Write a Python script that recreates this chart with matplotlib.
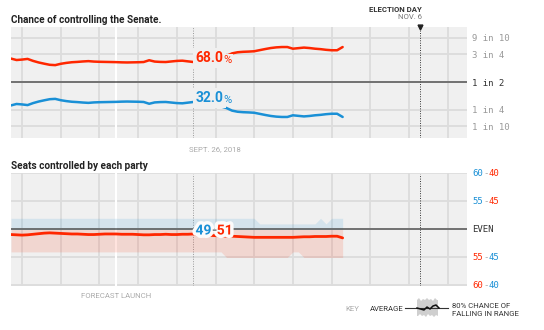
import matplotlib
matplotlib.use('Agg')
import matplotlib.pyplot as plt
import matplotlib.dates as mdates
import matplotlib.patheffects as pe
from matplotlib.lines import Line2D
from matplotlib.patches import Polygon
import numpy as np
import pandas as pd

# daily forecast, Aug 24 - Oct 23 2018
days = pd.date_range('2018-08-24', periods=61, freq='D')

rep_chance = [0.711, 0.698, 0.702, 0.708, 0.690, 0.676, 0.665, 0.655, 0.652, 0.664,
              0.672, 0.678, 0.681, 0.685, 0.688, 0.684, 0.682, 0.681, 0.680, 0.679,
              0.677, 0.676, 0.677, 0.678, 0.680, 0.696, 0.684, 0.681, 0.680, 0.685,
              0.690, 0.692, 0.686, 0.680, 0.685, 0.690, 0.700, 0.705, 0.720, 0.735,
              0.758, 0.768, 0.772, 0.774, 0.777, 0.787, 0.797, 0.806, 0.812, 0.815,
              0.815, 0.800, 0.805, 0.810, 0.806, 0.800, 0.796, 0.790, 0.786, 0.786,
              0.815]

dem_seats_avg = [49.1, 49.05, 49.0, 49.05, 49.15, 49.25, 49.35, 49.4, 49.35, 49.3,
                 49.25, 49.2, 49.2, 49.15, 49.1, 49.1, 49.15, 49.2, 49.2, 49.2,
                 49.15, 49.15, 49.15, 49.1, 49.05, 49.05, 49.1, 49.1, 49.15, 49.1,
                 49.1, 49.15, 49.15, 49.2, 49.1, 49.0, 48.95, 48.9, 48.85, 48.8,
                 48.8, 48.75, 48.7, 48.65, 48.6, 48.6, 48.6, 48.6, 48.6, 48.6,
                 48.6, 48.6, 48.65, 48.7, 48.7, 48.75, 48.75, 48.75, 48.8, 48.8,
                 48.5]

# 80% range of dem seats
dem_seats_hi = [52] * 45 + [51] * 11 + [52, 51, 52, 52, 52]
dem_seats_lo = [46] * 39 + [45] * 12 + [46, 46] + [45] * 8

prob_ticks = [0.1, 0.25, 0.5, 0.75, 0.9]
prob_labels = ['1 in 10', '1 in 4', '1 in 2', '3 in 4', '9 in 10']
seat_ticks = [40, 45, 50, 55, 60]

today = pd.Timestamp('2018-09-26')
launch = pd.Timestamp('2018-09-12')
election = pd.Timestamp('2018-11-06')
x_lim = (pd.Timestamp('2018-08-24'), pd.Timestamp('2018-11-14 12:00'))

RED = '#ff2700'
BLUE = '#1a90d6'
BG = '#f0f0f0'
GRID = '#dcdcdc'
plt.rcParams['font.family'] = ['Roboto', 'DejaVu Sans']

fig = plt.figure(figsize=(5.44, 3.30), dpi=100)
ax1 = fig.add_axes([11/544, 1-137.5/330, 456/544, 111/330])
ax2 = fig.add_axes([11/544, 1-285.5/330, 456/544, 112/330])

for ax in (ax1, ax2):
    ax.set_facecolor(BG)
    for s in ax.spines.values():
        s.set_visible(False)
    ax.set_xlim(x_lim)
    ax.xaxis.set_major_locator(mdates.WeekdayLocator(byweekday=mdates.SU))
    ax.set_axisbelow(True)
    ax.grid(True, color=GRID, lw=1.3)
    ax.tick_params(length=0, labelbottom=False)
    ax.yaxis.tick_right()
    ax.axvline(launch, color='white', lw=1.5, zorder=1)
    ax.axvline(today, color='#999', lw=0.7, ls=(0, (1, 1.5)), zorder=1)
    ax.axvline(election, color='#333', lw=0.7, ls=(0, (1, 1.5)), zorder=1)

# --- chance of controlling the senate
rep = np.array(rep_chance)
dem = 1 - rep
ax1.set_ylim(0, 1)
ax1.set_yticks(prob_ticks, prob_labels)
ax1.tick_params(axis='y', labelsize=6.5, labelcolor='#999', pad=3.5)
for lab in ax1.get_yticklabels():
    lab.set_family('DejaVu Sans Mono')
    if lab.get_text() == '1 in 2':
        lab.set_color('#333')
ax1.axhline(0.5, color='#555', lw=1.1, zorder=2)
ax1.plot(days, rep, color=RED, lw=1.8, solid_capstyle='round', zorder=3)
ax1.plot(days, dem, color=BLUE, lw=1.8, solid_capstyle='round', zorder=3)

i = days.get_loc(today)
box = dict(boxstyle='square,pad=0.2', fc=BG, ec='none')
pbox = dict(boxstyle='square,pad=0.05', fc=BG, ec='none')
for val, col in ((rep[i], RED), (dem[i], BLUE)):
    t = ax1.annotate(f'{val*100:.1f}', xy=(today, val), xytext=(1.5, 2.7),
                     textcoords='offset points', ha='left', va='center',
                     color=col, fontsize=10, fontweight='bold', bbox=box, zorder=5)
    ax1.annotate('%', xy=(1, 0.05), xycoords=t, xytext=(0.3, 0),
                 textcoords='offset points', ha='left', va='bottom',
                 color=col, fontsize=8, bbox=pbox, zorder=5.1)

# --- seats controlled by each party
ax2.set_ylim(40, 60)
ax2.set_yticks(seat_ticks, [''] * len(seat_ticks))
ax2.axhline(50, color='#555', lw=1.1, zorder=2)
ax2.fill_between(days, 50, dem_seats_hi, color=BLUE, alpha=0.13, lw=0, zorder=1.5)
ax2.fill_between(days, dem_seats_lo, 50, color=RED, alpha=0.13, lw=0, zorder=1.5)
ax2.plot(days, dem_seats_avg, color=RED, lw=2, solid_capstyle='round', zorder=3)

tr = ax2.get_yaxis_transform()
for d in seat_ticks:
    kw = dict(fontsize=6.5, family='DejaVu Sans Mono', va='center')
    if d == 50:
        ax2.text(1.012, d, 'EVEN', transform=tr, color='#333', **kw)
        continue
    if d > 50:
        parts = [(str(d), BLUE), ('-', '#aaa'), (str(100 - d), RED)]
    else:
        parts = [(str(100 - d), RED), ('-', '#aaa'), (str(d), BLUE)]
    t = ax2.text(1.012, d, parts[0][0], transform=tr, color=parts[0][1], **kw)
    for txt, col in parts[1:]:
        kw2 = dict(kw)
        kw2['va'] = 'bottom'
        t = ax2.annotate(txt, xy=(1, 0), xycoords=t, color=col, **kw2)

glow = [pe.withStroke(linewidth=5, foreground='#fbfbfb')]
d_now = round(dem_seats_avg[i])
t = ax2.annotate(str(d_now), xy=(today, dem_seats_avg[i]), xytext=(1.5, 2.5),
                 textcoords='offset points', ha='left', va='center', color=BLUE,
                 fontsize=10, fontweight='bold', path_effects=glow, zorder=5)
t = ax2.annotate('-', xy=(1, 0), xycoords=t, va='bottom', color='#888',
                 fontsize=10, fontweight='bold', zorder=6)
ax2.annotate(str(100 - d_now), xy=(1, 0), xycoords=t, va='bottom', color=RED,
             fontsize=10, fontweight='bold', path_effects=glow, zorder=5)

# --- titles and annotations
fig.text(11/544, 1-22.7/330, 'Chance of controlling the Senate.', fontsize=7.2,
         fontweight='bold', color='#222', va='baseline')
fig.text(11/544, 1-169.3/330, 'Seats controlled by each party', fontsize=7.2,
         fontweight='bold', color='#222', va='baseline')
fig.text(422/544, 1-12.3/330, 'ELECTION DAY', fontsize=5.6, fontweight='bold',
         color='#333', ha='right', va='baseline')
fig.text(422/544, 1-19.3/330, 'NOV. 6', fontsize=5.6, color='#777',
         ha='right', va='baseline')
ax1.plot([election], [1.0], marker='v', color='#222', ms=3.5, clip_on=False, zorder=6)
ax1.annotate('SEPT. 26, 2018', xy=(today, 0), xytext=(-3, -9.5),
             textcoords='offset points', fontsize=5.6, color='#aaa', ha='left', va='baseline')
ax2.annotate('FORECAST LAUNCH', xy=(launch, 40), xytext=(0, -9),
             textcoords='offset points', fontsize=5.6, color='#aaa', ha='center', va='baseline')

# --- key
fig.text(345/544, 1-311/330, 'KEY', fontsize=5.6, color='#aaa', va='baseline')
fig.text(370/544, 1-311/330, 'AVERAGE', fontsize=5.6, color='#333', va='baseline')
fig.add_artist(Line2D([405/544, 448/544], [1-308/330] * 2, color='#333', lw=0.8))
band_x = np.array([417, 419, 421, 423, 425, 427, 429, 431, 433, 435, 437, 438,
                   438, 436, 434, 432, 430, 428, 426, 424, 422, 420, 418, 417])
band_y = np.array([300, 298, 301, 299, 300, 298, 300, 299, 301, 298, 300, 300,
                   316, 315, 317, 315, 316, 314, 317, 315, 316, 314, 316, 316])
fig.add_artist(Polygon(np.c_[band_x/544, 1-band_y/330], closed=True, fc='#cfcfcf', ec='none'))
zig_x = np.array([417, 424, 427, 430, 433, 436, 439])
zig_y = np.array([308, 310, 307, 309, 306, 305, 308])
fig.add_artist(Line2D(zig_x/544, 1-zig_y/330, color='#111', lw=1.1))
fig.text(452/544, 1-307.5/330, '80% CHANCE OF', fontsize=5.6, color='#333', va='baseline')
fig.text(452/544, 1-316.5/330, 'FALLING IN RANGE', fontsize=5.6, color='#333', va='baseline')

fig.savefig('out.png', dpi=100)
